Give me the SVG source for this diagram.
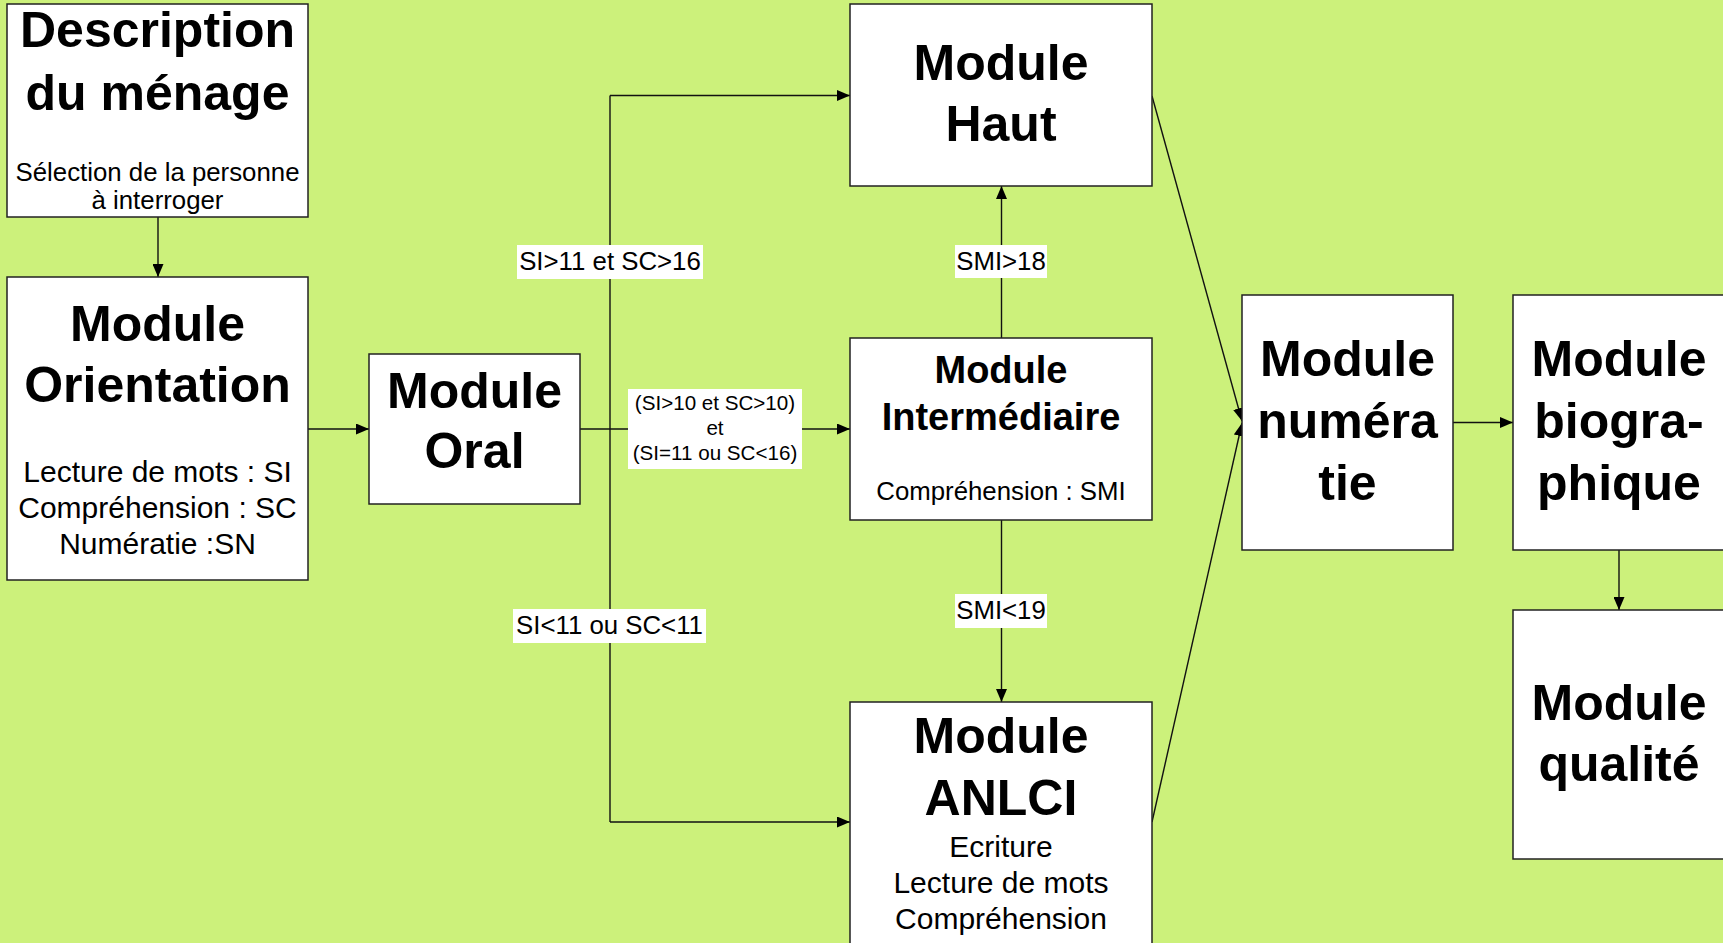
<svg xmlns="http://www.w3.org/2000/svg" width="1723" height="943" viewBox="0 0 1723 943">
<defs>
<style>
.box{fill:#fff;stroke:#222;stroke-width:1.5}
.t{font-family:"Liberation Sans",Arial,sans-serif;text-anchor:middle;fill:#000}
.b50{font-size:50px;font-weight:bold}
.b38{font-size:38px;font-weight:bold}
.r30{font-size:30px}
.r25{font-size:25.8px}
.r20{font-size:20.6px}
.c{fill:none;stroke:#111;stroke-width:1.4}
.lbl{fill:#fff}
</style>
<marker id="ah" markerUnits="userSpaceOnUse" markerWidth="13" markerHeight="11" refX="13" refY="5.5" orient="auto">
<path d="M0,0 L13,5.5 L0,11 z" fill="#000"/>
</marker>
</defs>
<rect width="1723" height="943" fill="#CCF17B"/>
<g id="connectors">
<line class="c" x1="158" y1="217" x2="158" y2="277" marker-end="url(#ah)"/>
<line class="c" x1="308" y1="429" x2="369" y2="429" marker-end="url(#ah)"/>
<line class="c" x1="580" y1="429" x2="850" y2="429" marker-end="url(#ah)"/>
<line class="c" x1="610" y1="95.5" x2="610" y2="822"/>
<line class="c" x1="610" y1="95.5" x2="850" y2="95.5" marker-end="url(#ah)"/>
<line class="c" x1="610" y1="822" x2="850" y2="822" marker-end="url(#ah)"/>
<line class="c" x1="1001.5" y1="338" x2="1001.5" y2="186" marker-end="url(#ah)"/>
<line class="c" x1="1001.5" y1="520" x2="1001.5" y2="702" marker-end="url(#ah)"/>
<line class="c" x1="1152" y1="96" x2="1242" y2="421" marker-end="url(#ah)"/>
<line class="c" x1="1152" y1="822" x2="1242" y2="423" marker-end="url(#ah)"/>
<line class="c" x1="1453" y1="422.5" x2="1513" y2="422.5" marker-end="url(#ah)"/>
<line class="c" x1="1619" y1="550" x2="1619" y2="610" marker-end="url(#ah)"/>
<rect class="lbl" x="517" y="245" width="186" height="34"/>
<text class="t r25" x="610" y="270">SI&gt;11 et SC&gt;16</text>
<rect class="lbl" x="513" y="609" width="193" height="34"/>
<text class="t r25" x="609.5" y="634">SI&lt;11 ou SC&lt;11</text>
<rect class="lbl" x="628" y="389" width="174" height="80"/>
<text class="t r20" x="715" y="410">(SI&gt;10 et SC&gt;10)</text>
<text class="t r20" x="715" y="435">et</text>
<text class="t r20" x="715" y="460">(SI=11 ou SC&lt;16)</text>
<rect class="lbl" x="955" y="245" width="92" height="33"/>
<text class="t r25" x="1001" y="270">SMI&gt;18</text>
<rect class="lbl" x="955" y="594" width="92" height="34"/>
<text class="t r25" x="1001" y="619">SMI&lt;19</text>
</g>
<g id="description">
<rect class="box" x="7" y="4" width="301" height="213"/>
<text class="t b50" x="157.5" y="47">Description</text>
<text class="t b50" x="157.5" y="110">du ménage</text>
<text class="t r25" x="157.5" y="180.5">Sélection de la personne</text>
<text class="t r25" x="157.5" y="209">à interroger</text>
</g>
<g id="orientation">
<rect class="box" x="7" y="277" width="301" height="303"/>
<text class="t b50" x="157.5" y="341">Module</text>
<text class="t b50" x="157.5" y="402">Orientation</text>
<text class="t r30" x="157.5" y="482">Lecture de mots : SI</text>
<text class="t r30" x="157.5" y="518">Compréhension : SC</text>
<text class="t r30" x="157.5" y="554">Numératie :SN</text>
</g>
<g id="oral">
<rect class="box" x="369" y="354" width="211" height="150"/>
<text class="t b50" x="474.5" y="408">Module</text>
<text class="t b50" x="474.5" y="468">Oral</text>
</g>
<g id="haut">
<rect class="box" x="850" y="4" width="302" height="182"/>
<text class="t b50" x="1001" y="80">Module</text>
<text class="t b50" x="1001" y="141">Haut</text>
</g>
<g id="intermediaire">
<rect class="box" x="850" y="338" width="302" height="182"/>
<text class="t b38" x="1001" y="383">Module</text>
<text class="t b38" x="1001" y="430">Intermédiaire</text>
<text class="t r25" x="1001" y="500">Compréhension : SMI</text>
</g>
<g id="anlci">
<rect class="box" x="850" y="702" width="302" height="260"/>
<text class="t b50" x="1001" y="753">Module</text>
<text class="t b50" x="1001" y="815">ANLCI</text>
<text class="t r30" x="1001" y="857">Ecriture</text>
<text class="t r30" x="1001" y="893">Lecture de mots</text>
<text class="t r30" x="1001" y="929">Compréhension</text>
</g>
<g id="numeratie">
<rect class="box" x="1242" y="295" width="211" height="255"/>
<text class="t b50" x="1347.5" y="376">Module</text>
<text class="t b50" x="1347.5" y="438">numéra</text>
<text class="t b50" x="1347.5" y="500">tie</text>
</g>
<g id="biographique">
<rect class="box" x="1513" y="295" width="212" height="255"/>
<text class="t b50" x="1619" y="376">Module</text>
<text class="t b50" x="1619" y="438">biogra-</text>
<text class="t b50" x="1619" y="500">phique</text>
</g>
<g id="qualite">
<rect class="box" x="1513" y="610" width="212" height="249"/>
<text class="t b50" x="1619" y="720">Module</text>
<text class="t b50" x="1619" y="781">qualité</text>
</g>
</svg>
